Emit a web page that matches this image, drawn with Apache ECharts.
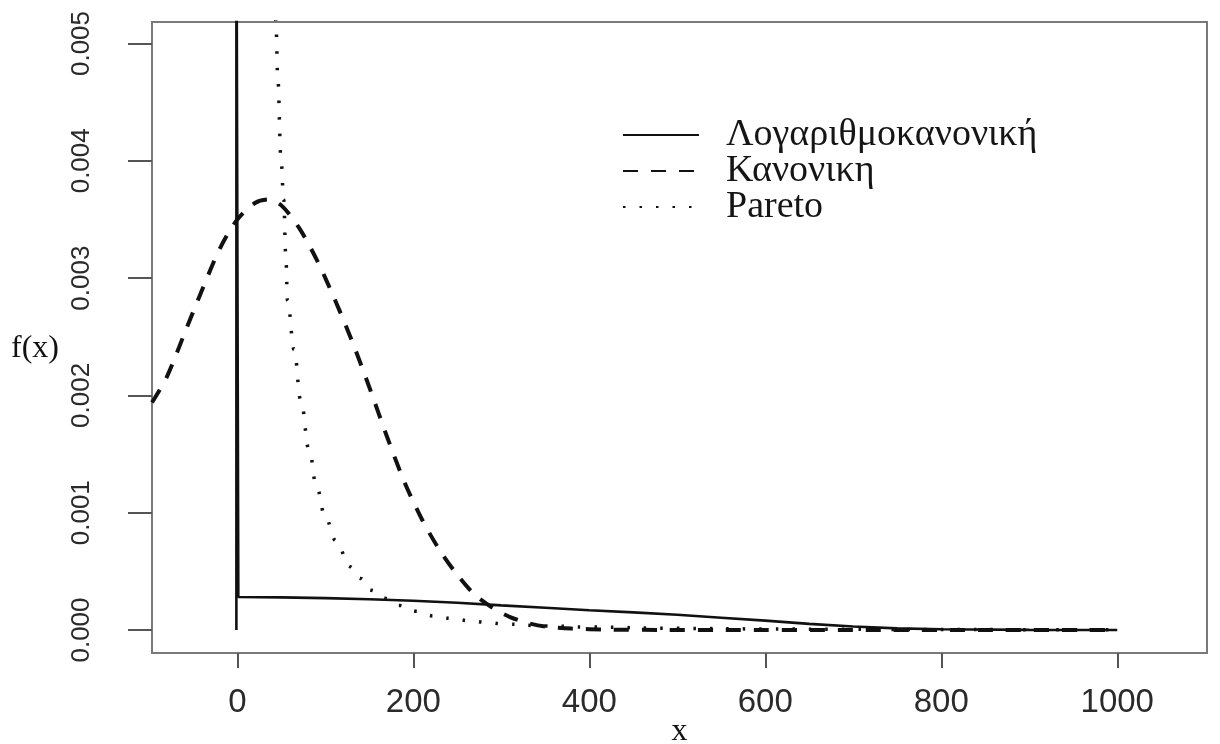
<!DOCTYPE html>
<html>
<head>
<meta charset="utf-8">
<title>f(x)</title>
<script src="https://cdn.jsdelivr.net/npm/echarts@6/dist/echarts.min.js"></script>
<style>
  html, body { margin: 0; padding: 0; background: #ffffff; }
  #chart { width: 1220px; height: 744px; }
</style>
</head>
<body>
<div id="chart"></div>
<script>
// Tick positions on both axes
const xTicks = [0, 200, 400, 600, 800, 1000];
const yTicks = [0, 0.001, 0.002, 0.003, 0.004, 0.005];

// Series names (legend order)
const seriesNames = ['Λογαριθμοκανονική', 'Κανονικη', 'Pareto'];

// Log-normal density: spike at the origin, then a slow decay
const lognormalPts = [
  [-1.1, 0], [-1.1, 0.0065], [1.1, 0.0065], [1.1, 0.000282],
  [50, 0.000278], [100, 0.000272], [150, 0.000262], [200, 0.00025],
  [250, 0.000232], [300, 0.00021], [350, 0.00019], [400, 0.000168],
  [450, 0.00015], [500, 0.00013], [550, 0.000105], [600, 0.00008],
  [650, 0.000052], [700, 0.00003], [750, 0.000014], [800, 0.000006],
  [900, 0.000001], [1000, 0]
];

// Normal density
const normalPts = [
  [-97, 0.00194], [-80, 0.00216], [-60, 0.00253], [-40, 0.0029], [-20, 0.00325],
  [0, 0.0035], [20, 0.00364], [35, 0.00367], [50, 0.00362], [70, 0.00343],
  [90, 0.00316], [110, 0.00283], [130, 0.00247], [150, 0.00207], [170, 0.00165],
  [190, 0.00126], [210, 0.00094], [230, 0.00068], [250, 0.00047], [270, 0.0003],
  [290, 0.00019], [310, 0.00011], [330, 0.00006], [350, 0.00003], [380, 0.000012],
  [420, 0.000004], [480, 0.000001], [550, 0], [700, 0], [850, 0], [1000, 0]
];

// Pareto density
const paretoPts = [
  [42, 0.0062], [43.8, 0.00518], [46, 0.0047], [49.5, 0.00403], [52.7, 0.00367],
  [55, 0.0032], [57, 0.00281], [64.5, 0.00239], [72, 0.00196], [81.7, 0.00153],
  [90, 0.00122], [100, 0.00096], [112, 0.00076], [128, 0.00054], [140, 0.00044],
  [151.6, 0.00034], [167.7, 0.00027], [183.9, 0.00021], [203, 0.00016],
  [222.6, 0.00012], [243, 0.0001], [263, 0.00008], [283, 0.000065], [304, 0.00005],
  [350, 0.000035], [400, 0.000025], [500, 0.000014], [600, 0.000009],
  [700, 0.000006], [800, 0.000004], [900, 0.000003], [1000, 0.000002]
];

const chart = echarts.init(document.getElementById('chart'), null, { renderer: 'canvas' });

const tickFont = '"Liberation Sans", Arial, Helvetica, sans-serif';
const serifFont = '"Liberation Serif", "Times New Roman", Times, serif';
const ink = '#111111';

chart.setOption({
  animation: false,
  backgroundColor: '#ffffff',
  title: {
    text: 'f(x)',
    left: 11,
    top: 333,
    padding: 0,
    textStyle: { fontFamily: serifFont, fontSize: 32, fontWeight: 'normal', color: '#111' }
  },
  legend: {
    orient: 'vertical',
    left: 617,
    top: 111,
    itemWidth: 76,
    itemHeight: 4,
    itemGap: -2,
    data: seriesNames,
    itemStyle: { opacity: 0, borderWidth: 0 },
    textStyle: {
      fontFamily: serifFont,
      fontSize: 38,
      lineHeight: 32,
      color: '#151515',
      padding: [0, 0, 0, 22]
    }
  },
  grid: {
    left: 152,
    right: 13,
    top: 22,
    bottom: 91,
    outerBoundsMode: 'none',
    containLabel: false,
    show: true,
    borderColor: '#7a7a7a',
    borderWidth: 2,
    backgroundColor: 'transparent'
  },
  xAxis: {
    type: 'value',
    position: 'bottom',
    min: -97,
    max: 1102,
    name: 'x',
    nameLocation: 'middle',
    nameGap: 63,
    nameMoveOverlap: false,
    nameTextStyle: { fontFamily: serifFont, fontSize: 32, color: '#111' },
    axisLine: { show: false, onZero: false },
    splitLine: { show: false },
    axisTick: {
      show: true,
      inside: false,
      length: 15,
      customValues: xTicks,
      lineStyle: { color: '#555', width: 2 }
    },
    axisLabel: {
      customValues: xTicks,
      margin: 33,
      fontFamily: tickFont,
      fontSize: 33,
      color: '#2a2a2a',
      formatter: function (v) { return String(v); }
    }
  },
  yAxis: {
    type: 'value',
    position: 'left',
    min: -0.000196,
    max: 0.0051833,
    axisLine: { show: false, onZero: false },
    splitLine: { show: false },
    axisTick: {
      show: true,
      inside: false,
      length: 24,
      customValues: yTicks,
      lineStyle: { color: '#555', width: 2 }
    },
    axisLabel: {
      customValues: yTicks,
      rotate: 90,
      margin: 57,
      fontFamily: tickFont,
      fontSize: 26,
      color: '#2a2a2a',
      formatter: function (v) { return v.toFixed(3); }
    }
  },
  series: [
    {
      name: seriesNames[0],
      type: 'line',
      data: lognormalPts,
      showSymbol: false,
      symbol: 'none',
      clip: true,
      lineStyle: { color: ink, width: 2.6, type: 'solid' },
      itemStyle: { color: ink },
      z: 3
    },
    {
      name: seriesNames[1],
      type: 'line',
      data: normalPts,
      showSymbol: false,
      symbol: 'none',
      smooth: 0.3,
      clip: true,
      lineStyle: { color: ink, width: 4, type: [15, 13] },
      itemStyle: { color: ink },
      z: 2
    },
    {
      name: seriesNames[2],
      type: 'line',
      data: paretoPts,
      showSymbol: false,
      symbol: 'none',
      smooth: 0.4,
      smoothMonotone: 'x',
      clip: true,
      lineStyle: { color: '#111', width: 3.5, type: [2.5, 14] },
      itemStyle: { color: '#111' },
      z: 2
    }
  ]
});
</script>
</body>
</html>
